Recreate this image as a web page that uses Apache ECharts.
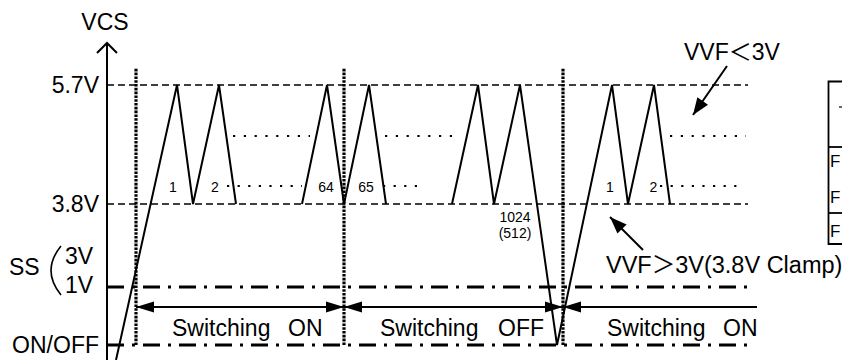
<!DOCTYPE html>
<html>
<head>
<meta charset="utf-8">
<script src="https://cdn.jsdelivr.net/npm/echarts@6/dist/echarts.min.js"></script>
<style>
html,body{margin:0;padding:0;background:#fff;}
#c{width:842px;height:360px;}
</style>
</head>
<body>
<div id="c"></div>
<script>
// ---- schematic data (x = time units, y = level units, origin bottom-left) ----
const levelNames = ['5.7V', '3.8V'];
const levelValues = [275, 156];
const levelSpan = [107, 748];

const wave1 = [[116, 0], [177, 275], [193, 156], [219, 275], [236, 156]];
const wave2 = [[302, 156], [327, 275], [344, 156], [369, 275], [386, 156]];
const wave3 = [[452, 156], [478, 275], [494, 156], [520, 275], [557, 15], [612, 275], [628, 156], [654, 275], [670, 156]];

const dotMidLevel = 224;
const dotMidSpans = [[233, 310], [385, 460], [670, 746]];
const dotLowLevel = 174;
const dotLowSpans = [[227, 302], [383, 418], [660, 737]];

const ssLevel = 73;
const onoffLevel = 15;
const dashDotSpan = [107, 750];

const switchTimes = [136, 344, 563];
const switchSpan = [15, 292];

const arrowLevel = 53;
const arrowSegments = [[136, 344, 1, 1], [344, 563, 1, 1], [563, 757, 1, 0]];

const axisX = 107;
const axisTop = 317;

const noteArrows = [[727, 294, 693, 245], [643, 110, 610, 143]];

const pulseLabels = ['1', '2', '64', '65', '1', '2'];
const pulseLabelX = [173, 215, 326, 366, 610, 653.5];

const FONT = '"Liberation Sans", Arial, "Noto Sans CJK JP", sans-serif';

const series = [];
const black = '#000';

function lineSeries(data, width, type) {
  series.push({
    type: 'line', data: data, symbol: 'none', silent: true, animation: false, clip: false,
    lineStyle: { color: black, width: width, type: type || 'solid', cap: 'butt', join: 'miter' }
  });
}

// VCS axis + open arrow
lineSeries([[axisX, 0], [axisX, axisTop]], 2);
lineSeries([[axisX - 10, axisTop - 10], [axisX, axisTop], [axisX + 10, axisTop - 10]], 2);

// reference levels
levelValues.forEach(v => lineSeries([[levelSpan[0], v], [levelSpan[1], v]], 1.3, [7, 4]));
// dotted intermediate levels
dotMidSpans.forEach(s => lineSeries([[s[0], dotMidLevel], [s[1], dotMidLevel]], 2.2, [2.2, 8.6]));
dotLowSpans.forEach(s => lineSeries([[s[0], dotLowLevel], [s[1], dotLowLevel]], 2.2, [2.2, 8.4]));
// dash-dot SS and ON/OFF lines
[ssLevel, onoffLevel].forEach(v => lineSeries([[dashDotSpan[0], v], [dashDotSpan[1], v]], 3, [17, 8, 3, 8]));
// vertical switching boundaries
switchTimes.forEach(t => lineSeries([[t, switchSpan[0]], [t, switchSpan[1]]], 3.2, [2.6, 1.2]));
// waveform
[wave1, wave2, wave3].forEach(w => lineSeries(w, 2));

function arrowRender(L, W, lw) {
  return function (params, api) {
    const p1 = api.coord([api.value(0), api.value(1)]);
    const p2 = api.coord([api.value(2), api.value(3)]);
    const hs = api.value(4), he = api.value(5);
    const dx = p2[0] - p1[0], dy = p2[1] - p1[1];
    const len = Math.sqrt(dx * dx + dy * dy);
    const ux = dx / len, uy = dy / len, nx = -uy, ny = ux;
    const children = [{
      type: 'line', shape: { x1: p1[0], y1: p1[1], x2: p2[0], y2: p2[1] },
      style: { stroke: black, lineWidth: lw }
    }];
    function head(tip, dir) {
      const bx = tip[0] - dir * ux * L, by = tip[1] - dir * uy * L;
      children.push({
        type: 'polygon',
        shape: { points: [tip, [bx + nx * W, by + ny * W], [bx - nx * W, by - ny * W]] },
        style: { fill: black }
      });
    }
    if (hs) head(p1, -1);
    if (he) head(p2, 1);
    return { type: 'group', children: children };
  };
}

series.push({
  type: 'custom', silent: true, animation: false, clip: false,
  data: arrowSegments.map(s => [s[0], arrowLevel, s[1], arrowLevel, s[2], s[3]]),
  renderItem: arrowRender(18, 5.5, 1.8)
});
series.push({
  type: 'custom', silent: true, animation: false, clip: false,
  data: noteArrows.map(a => [a[0], a[1], a[2], a[3], 0, 1]),
  renderItem: arrowRender(17, 6.5, 2)
});

function txt(text, x, y, size, align) {
  return {
    type: 'text', x: x, y: y, silent: true,
    style: { text: text, font: size + 'px ' + FONT, fill: black, align: align || 'left', verticalAlign: 'middle' }
  };
}

const graphics = [
  txt('VCS', 105, 22, 23, 'center'),
  txt(levelNames[0], 99, 85, 23, 'right'),
  txt(levelNames[1], 99, 204, 23, 'right'),
  txt('SS', 9, 267, 23, 'left'),
  txt('3V', 65, 256, 23, 'left'),
  txt('1V', 65, 285, 23, 'left'),
  txt('ON/OFF', 99, 345, 23, 'right'),
  { type: 'bezierCurve', silent: true, shape: { x1: 61, y1: 246, cpx1: 41, cpy1: 270.5, x2: 61, y2: 295 },
    style: { stroke: black, lineWidth: 1.6, fill: null } },
  txt('1024', 515, 217, 14, 'center'),
  txt('(512)', 515, 233, 14, 'center'),
  txt('Switching', 172, 327.5, 23, 'left'),
  txt('ON', 288, 327.5, 23, 'left'),
  txt('Switching', 380, 327.5, 23, 'left'),
  txt('OFF', 498, 327.5, 23, 'left'),
  txt('Switching', 607, 327.5, 23, 'left'),
  txt('ON', 723, 327.5, 23, 'left'),
  txt('VVF＜3V', 684, 52, 23, 'left'),
  txt('VVF＞3V(3.8V Clamp)', 606, 265, 23.5, 'left'),
  // partial table at right edge
  { type: 'polyline', silent: true, shape: { points: [[842, 81.5], [828.5, 81.5], [828.5, 244], [842, 244]] },
    style: { stroke: black, lineWidth: 1.8, fill: null } },
  { type: 'line', silent: true, shape: { x1: 828.5, y1: 147, x2: 842, y2: 147 }, style: { stroke: black, lineWidth: 1.8 } },
  { type: 'line', silent: true, shape: { x1: 828.5, y1: 213, x2: 842, y2: 213 }, style: { stroke: black, lineWidth: 1.8 } },
  { type: 'line', silent: true, shape: { x1: 839, y1: 107, x2: 842, y2: 107 }, style: { stroke: black, lineWidth: 1.2 } },
  txt('F', 830, 161.5, 17, 'left'),
  txt('F', 830, 197.5, 17, 'left'),
  txt('F', 830, 231.5, 17, 'left')
];
pulseLabels.forEach((l, i) => graphics.push(txt(l, pulseLabelX[i], 187, 14, 'center')));

const chart = echarts.init(document.getElementById('c'), null, { renderer: 'svg' });
chart.setOption({
  animation: false,
  backgroundColor: '#fff',
  grid: { left: 0, right: 0, top: 0, bottom: 0 },
  xAxis: { type: 'value', min: 0, max: 842, show: false },
  yAxis: { type: 'value', min: 0, max: 360, show: false },
  series: series,
  graphic: graphics
});
</script>
</body>
</html>
